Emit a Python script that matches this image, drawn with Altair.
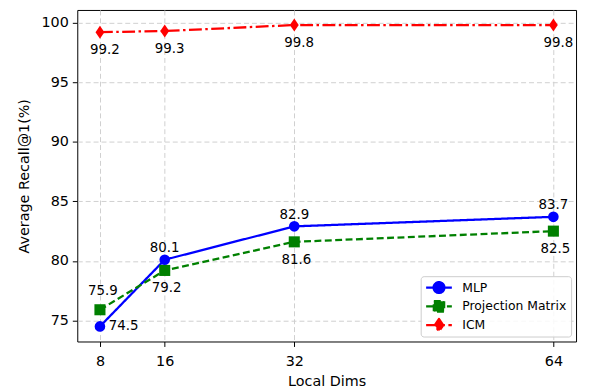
import altair as alt
import pandas as pd

# ---------------- data ----------------
dims = [8, 16, 32, 64]
series_names = ["MLP", "Projection Matrix", "ICM"]
mlp_recall = [74.5, 80.1, 82.9, 83.7]
proj_recall = [75.9, 79.2, 81.6, 82.5]
icm_recall = [99.2, 99.3, 99.8, 99.8]
y_ticks = [75, 80, 85, 90, 95, 100]

# label placement for each annotated value
mlp_label_pos = ["right", "above", "above", "above"]
proj_label_pos = ["above_far", "below", "below", "below"]
icm_label_pos = ["below_r", "below_r", "below_r", "below_r"]

# ---------------- styles ----------------
FONT = "DejaVu Sans"
colors = ["#0000ff", "#008000", "#ff0000"]
dashes = [[1, 0], [7, 3.5], [13, 3.5, 2.5, 3.5]]
marker_shapes = ["circle", "square", "M0,-1L0.68,0L0,1L-0.68,0Z"]
marker_sizes = [115, 125, 175]
legend_paths = [
    "M-1,0L1,0M0.42,0A0.42,0.42,0,1,1,-0.42,0A0.42,0.42,0,1,1,0.42,0Z",
    "M-1,0L1,0M-0.4,-0.4L0.4,-0.4L0.4,0.4L-0.4,0.4Z",
    "M-1,0L1,0M0,-0.48L0.33,0L0,0.48L-0.33,0Z",
]
label_offsets = {
    "right": (24, 0),
    "above": (0, -11.5),
    "above_far": (3, -19),
    "below": (2, 18),
    "below_r": (5, 18),
}

rows = []
for name, vals, poss in zip(series_names,
                            [mlp_recall, proj_recall, icm_recall],
                            [mlp_label_pos, proj_label_pos, icm_label_pos]):
    for d, v, p in zip(dims, vals, poss):
        rows.append({"series": name, "dim": d, "value": v,
                     "label": f"{v:.1f}", "pos": p})
df = pd.DataFrame(rows)

all_vals = mlp_recall + proj_recall + icm_recall
ypad = 0.05 * (max(all_vals) - min(all_vals))
xpad = 0.05 * (max(dims) - min(dims))
x_dom = [min(dims) - xpad, max(dims) + xpad]
y_dom = [min(all_vals) - ypad, max(all_vals) + ypad]

x_enc = alt.X("dim:Q",
              scale=alt.Scale(domain=x_dom, nice=False, zero=False),
              axis=alt.Axis(values=dims, format="d", title="Local Dims"))
y_enc = alt.Y("value:Q",
              scale=alt.Scale(domain=y_dom, nice=False, zero=False),
              axis=alt.Axis(values=y_ticks, format="d",
                            title="Average Recall@1(%)"))

base = alt.Chart(df)
layers = []
for i, name in enumerate(series_names):
    sub = base.transform_filter(alt.datum.series == name)
    layers.append(sub.mark_line(color=colors[i], strokeWidth=2.3,
                                strokeDash=dashes[i])
                  .encode(x=x_enc, y=y_enc))
    layers.append(sub.mark_point(shape=marker_shapes[i], filled=True,
                                 size=marker_sizes[i], color=colors[i],
                                 opacity=1, strokeWidth=0)
                  .encode(x=x_enc, y=y_enc))

for pos, (dx, dy) in label_offsets.items():
    layers.append(base.transform_filter(alt.datum.pos == pos)
                  .mark_text(dx=dx, dy=dy, fontSize=13.5, font=FONT,
                             color="black", baseline="middle", align="center")
                  .encode(x=x_enc, y=y_enc, text="label:N"))

leg = alt.Legend(title=None, orient="none", legendX=347, legendY=269,
                 padding=4, strokeColor="#cccccc", cornerRadius=3,
                 fillColor="rgba(255,255,255,0.85)",
                 symbolSize=676, symbolStrokeWidth=2.3, symbolOpacity=1,
                 labelFontSize=12.5, labelFont=FONT, labelColor="black",
                 labelOffset=9, clipHeight=15, rowPadding=4)

legend_layer = base.mark_point(filled=True, size=0).encode(
    x=x_enc, y=y_enc,
    color=alt.Color("series:N", scale=alt.Scale(domain=series_names, range=colors), legend=leg),
    stroke=alt.Stroke("series:N", scale=alt.Scale(domain=series_names, range=colors), legend=leg),
    shape=alt.Shape("series:N", scale=alt.Scale(domain=series_names, range=legend_paths), legend=leg),
    strokeDash=alt.StrokeDash("series:N", scale=alt.Scale(domain=series_names, range=dashes), legend=leg),
)
layers.append(legend_layer)

chart = alt.layer(*layers).properties(
    width=504, height=335,
    autosize=alt.AutoSizeParams(type="none"),
    padding={"left": 70, "top": 0, "right": 5, "bottom": 45},
).configure_view(
    stroke="black", strokeWidth=1
).configure_axis(
    domain=False,
    grid=True, gridColor="#cfcfcf", gridDash=[5, 3], gridWidth=1,
    ticks=True, tickColor="black", tickSize=5, tickWidth=1,
    labelFont=FONT, labelFontSize=14.5, labelColor="black", labelPadding=4,
    titleFont=FONT, titleFontSize=14.5, titleFontWeight="normal", titleColor="black",
).configure_axisX(labelPadding=8, titlePadding=7).configure_axisY(titlePadding=10)

chart.save("out.html", embed_options={"renderer": "svg", "actions": False})
